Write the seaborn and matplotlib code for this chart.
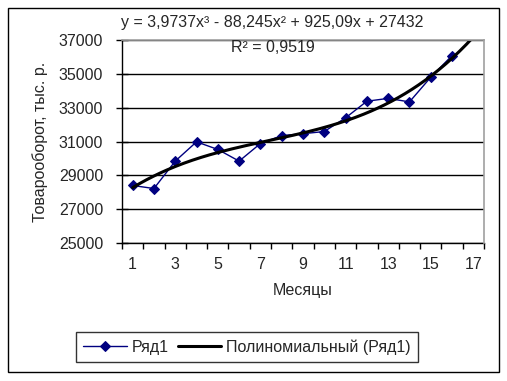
import numpy as np
import pandas as pd
import seaborn as sns
import matplotlib.pyplot as plt
from matplotlib.patches import Rectangle

# data
months = list(range(1, 17))
turnover = [28400, 28220, 29840, 30980, 30530, 29840, 30880, 31350,
            31460, 31590, 32400, 33380, 33550, 33340, 34800, 36080]
# trend coefficients from the label (cubic, highest power first)
trend_coef = [3.9737, -88.245, 925.09, 27432]
trend_end = 17
y_ticks = [25000, 27000, 29000, 31000, 33000, 35000, 37000]
x_labels = [1, 3, 5, 7, 9, 11, 13, 15, 17]

sns.set_theme(style="white")
plt.rcParams['font.family'] = ['Liberation Sans', 'DejaVu Sans']
fs = 11.5

fig = plt.figure(figsize=(5.07, 3.81), dpi=100)
ax = fig.add_axes([122/507, 1-243/381, (484-122)/507, (243-40)/381])

df = pd.DataFrame({'x': months, 'y': turnover})
sns.lineplot(data=df, x='x', y='y', ax=ax, color='#000080', lw=1,
             marker='D', markersize=5.5, markeredgecolor='#000080',
             label='Ряд1', zorder=3)

xt = np.linspace(1, trend_end, 200)
tr = pd.DataFrame({'x': xt, 'y': np.polyval(trend_coef, xt)})
sns.lineplot(data=tr, x='x', y='y', ax=ax, color='black', lw=2.2,
             label='Полиномиальный (Ряд1)', zorder=4)

ax.set_xlim(0.5, 17.5)
ax.set_ylim(25000, 37000)
ax.set_yticks(y_ticks)
ax.set_yticklabels([str(v) for v in y_ticks], fontsize=fs)
ax.set_xticks(x_labels)
ax.set_xticklabels([str(v) for v in x_labels], fontsize=fs)
ax.set_xticks(np.arange(0.5, 18, 1), minor=True)
ax.tick_params(axis='x', which='major', length=0, pad=10)
ax.tick_params(axis='x', which='minor', length=4, width=1, direction='out',
               color='black', bottom=True)
ax.tick_params(axis='y', length=9, width=1, direction='inout', color='black',
               left=True, pad=9)
ax.yaxis.grid(True, color='black', lw=1)
ax.xaxis.grid(False)

for s in ['left', 'bottom']:
    ax.spines[s].set_color('black')
    ax.spines[s].set_linewidth(1)
for s in ['top', 'right']:
    ax.spines[s].set_color('#a0a0a0')
    ax.spines[s].set_linewidth(1.2)
    ax.spines[s].set_zorder(5)

ax.set_xlabel('Месяцы', fontsize=fs, labelpad=8)
ax.set_ylabel('Товарооборот, тыс. р.', fontsize=fs, labelpad=8)

fig.text(272/507, 1-23/381, 'y = 3,9737x³ - 88,245x² + 925,09x + 27432',
         ha='center', va='center', fontsize=fs)
fig.text(273/507, 1-47/381, 'R² = 0,9519', ha='center', va='center', fontsize=fs)

ax.get_legend().remove()
h, l = ax.get_legend_handles_labels()
leg = fig.legend(h, l, loc='center', bbox_to_anchor=(247/507, 1-347/381),
                 ncol=2, fontsize=fs, frameon=True, fancybox=False,
                 handlelength=2.7, handletextpad=0.3, columnspacing=0.6,
                 borderpad=0.45, borderaxespad=0)
leg.get_frame().set_edgecolor('black')
leg.get_frame().set_linewidth(1)

fig.patches.append(Rectangle((8/507, 1-372/381), (499-8)/507, (372-8)/381,
                             transform=fig.transFigure, fill=False,
                             edgecolor='black', lw=1))

fig.savefig('out.png', dpi=100)
